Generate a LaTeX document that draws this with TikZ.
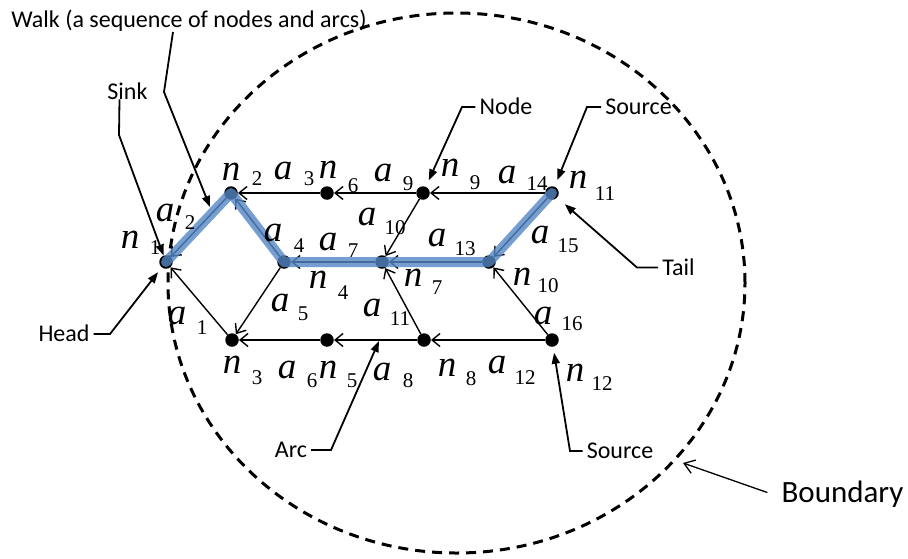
\documentclass[tikz,border=0pt]{standalone}
\usepackage{fontspec}
\setmainfont{Liberation Serif}
\newfontfamily\calloutfont{Carlito}
\usepackage{tikz}
\usetikzlibrary{arrows.meta,calc}
\definecolor{walkblue}{RGB}{84,134,196}

\begin{document}
\begin{tikzpicture}[x=1pt,y=-1pt,
  dot/.style={circle,fill=black,inner sep=0pt,minimum size=13.5pt},
  link/.style={line width=1.4pt,-{Straight Barb[length=8pt,width=13pt]}},
  walk/.style={draw=walkblue,opacity=0.8,line width=10pt,line cap=round,line join=round},
  sym/.style={font=\fontsize{37}{37}\selectfont\itshape,inner sep=0pt,text height=17pt,text depth=0pt},
  idx/.style={font=\fontsize{21}{21}\selectfont,inner sep=0pt,text height=14pt,text depth=0pt},
  callout/.style={font=\calloutfont\fontsize{24}{24}\selectfont,inner sep=4pt,text height=15.5pt,text depth=0pt},
  pointer/.style={line width=1.8pt,-{Triangle[length=11pt,width=8pt]}},
  boundary/.style={line width=3pt,dash pattern=on 10pt off 7pt}]
  \useasboundingbox (0,0) rectangle (908,558);
  % boundary of the network
  \draw[boundary] (456.5,283) ellipse [x radius=288.5pt,y radius=270pt];
  % nodes
  \foreach \nm/\x/\y in {n1/166/262,n2/231/193,n6/327/193,n9/423/193,n11/552/193,
      n4/284/262,n7/382/262,n10/489/262,n3/232/340,n5/327/340,n8/424/340,n12/552/340}
    \node[dot] (\nm) at (\x,\y) {};
  % arcs (tail -> head)
  \foreach \t/\h in {n3/n1,n2/n1,n6/n2,n4/n2,n4/n3,n5/n3,n7/n4,n8/n5,
      n9/n6,n9/n7,n8/n7,n12/n8,n10/n7,n11/n9,n11/n10,n12/n10}
    \draw[link] (\t) -- (\h);
  % walk
  \draw[walk] (n11.center) -- (n10.center) -- (n7.center) -- (n4.center) -- (n2.center) -- (n1.center);
  % labels n_i, a_j
  \foreach \s/\k/\lx/\ly/\sx/\sy in {
      n/1/130/240/155/247, n/2/231/172/257/178, n/3/232/365/257/377,
      n/4/318/280/343/292, n/5/328/370/352/380, n/6/328/170/353/185,
      n/7/413/278/437/287, n/8/447/368/471/378, n/9/450/168/475/182,
      n/10/522/277/548/285, n/11/578/180/605/193, n/12/575/373/602/383,
      a/1/177/316/202/327, a/2/165/213/190/222, a/3/283/171/309/178,
      a/4/273/233/299/245, a/5/280/303/303/313, a/6/287/370/312/380,
      a/7/328/242/353/250, a/8/382/372/408/380, a/9/383/173/408/183,
      a/10/367/217/395/227, a/11/372/308/400/318, a/12/497/365/525/377,
      a/13/437/238/465/248, a/14/507/175/537/183, a/15/540/235/568/245,
      a/16/543/316/572/323}
  {
    \node[sym] (t\s\k) at (\lx,\ly) {\s};
    \node[idx] (s\s\k) at (\sx,\sy) {\k};
  }
  % callouts
  \node[callout] (cWalk) at (189,20) {Walk (a sequence of nodes and arcs)};
  \node[callout] (cSink) at (127.5,91.5) {Sink};
  \node[callout] (cHead) at (64,334) {Head};
  \node[callout] (cNode) at (506,107) {Node};
  \node[callout] (cSrcA) at (638.5,107) {Source};
  \node[callout] (cTail) at (678.5,267.5) {Tail};
  \node[callout] (cSrcB) at (620,451) {Source};
  \node[callout] (cArc) at (291,450) {Arc};
  \node[callout,font=\calloutfont\fontsize{31}{31}\selectfont,text height=20pt] (cBnd) at (842.5,492.5) {Boundary};
  \coordinate (wtip) at (210,207);
  \coordinate (atip) at (379,341);
  \coordinate (btip) at (683,463);
  \draw[pointer] ([xshift=-16pt]cWalk.south) -- (164,92) -- (wtip);
  \draw[pointer] ([xshift=-8pt,yshift=4pt]cSink.south) -- (119,135) -- (n1);
  \draw[pointer,shorten >=6pt] (cHead.east) -- (110,334) -- (n1);
  \draw[pointer,shorten >=7pt] (cNode.west) -- (462,107) -- (n9);
  \draw[pointer,shorten >=7pt] (cSrcA.west) -- (587,107) -- (n11);
  \draw[pointer,shorten >=10pt] (cTail.west) -- (637,267.5) -- (n11);
  \draw[pointer,shorten >=6pt] (cSrcB.west) -- (570,451) -- (n12);
  \draw[pointer] (cArc.east) -- (331,450) -- (atip);
  \draw[line width=1.3pt,-{Straight Barb[length=10pt,width=14pt]}] ([xshift=-10pt]cBnd.west) -- (btip);
\end{tikzpicture}
\end{document}
